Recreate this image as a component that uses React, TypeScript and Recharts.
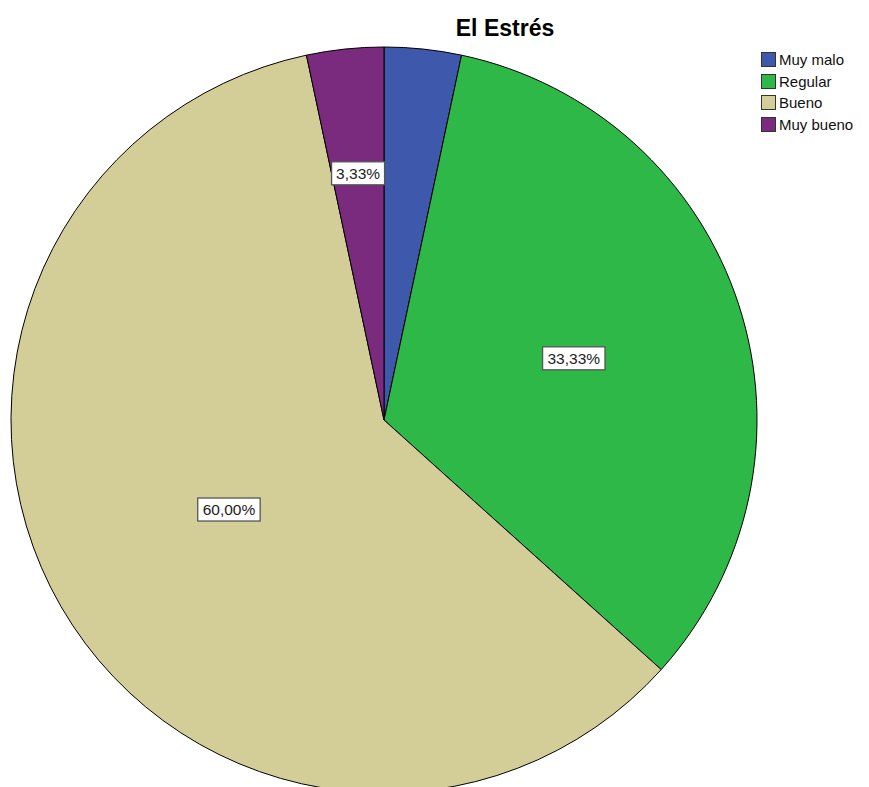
import React from 'react';
import { PieChart, Pie, Cell, Legend } from 'recharts';

const categories = ['Muy malo', 'Regular', 'Bueno', 'Muy bueno'];
const counts = [1, 10, 18, 1];
const colors = ['#3e58ac', '#2eb848', '#d3ce97', '#7b2b7e'];
// label distance from the centre as a share of the radius; null hides the label
const labelRadius = [null, 0.535, 0.48, 0.665];

const data = categories.map((name, i) => ({ name, value: counts[i] }));

const RAD = Math.PI / 180;

const renderLabel = (props: any) => {
  const { cx, cy, midAngle, outerRadius, percent, index } = props;
  const f = labelRadius[index];
  if (f == null) return null;
  const r = outerRadius * f;
  const x = cx + r * Math.cos(-midAngle * RAD);
  const y = cy + r * Math.sin(-midAngle * RAD);
  const text = (percent * 100).toFixed(2).replace('.', ',') + '%';
  const w = text.length * 9.4 + 6;
  const h = 23;
  return (
    <g>
      <rect x={x - w / 2} y={y - h / 2} width={w} height={h} fill="#fff" stroke="#555" strokeWidth={1.3} />
      <text x={x} y={y + 5.5} textAnchor="middle" fontSize={15.5} fontFamily="Arial, 'Liberation Sans', sans-serif" fill="#222">
        {text}
      </text>
    </g>
  );
};

const renderLegend = () => (
  <div style={{ fontFamily: "Arial, 'Liberation Sans', sans-serif", fontSize: 15, color: '#111' }}>
    {categories.map((c, i) => (
      <div key={c} style={{ display: 'flex', alignItems: 'center', height: 21.5 }}>
        <span
          style={{
            display: 'inline-block',
            width: 13,
            height: 13,
            background: colors[i],
            border: '1px solid #333',
            marginRight: 3,
          }}
        />
        <span>{c}</span>
      </div>
    ))}
  </div>
);

export default function App() {
  return (
    <div style={{ position: 'absolute', left: 0, top: 0, width: 869, height: 787, background: '#fff', overflow: 'hidden' }}>
      <div
        style={{
          position: 'absolute',
          left: 0,
          width: 1010,
          top: 15,
          textAlign: 'center',
          fontFamily: "Arial, 'Liberation Sans', sans-serif",
          fontWeight: 'bold',
          fontSize: 23,
          color: '#000',
        }}
      >
        El Estrés
      </div>
      <PieChart width={869} height={787}>
        <Pie
          data={data}
          dataKey="value"
          nameKey="name"
          cx={379}
          cy={415}
          outerRadius={373}
          startAngle={90}
          endAngle={-270}
          stroke="#000"
          strokeWidth={1}
          label={renderLabel}
          labelLine={false}
          isAnimationActive={false}
        >
          {data.map((d, i) => (
            <Cell key={d.name} fill={colors[i]} />
          ))}
        </Pie>
        <Legend content={renderLegend} wrapperStyle={{ position: 'absolute', left: 761, top: 49, width: 110 }} />
      </PieChart>
    </div>
  );
}
